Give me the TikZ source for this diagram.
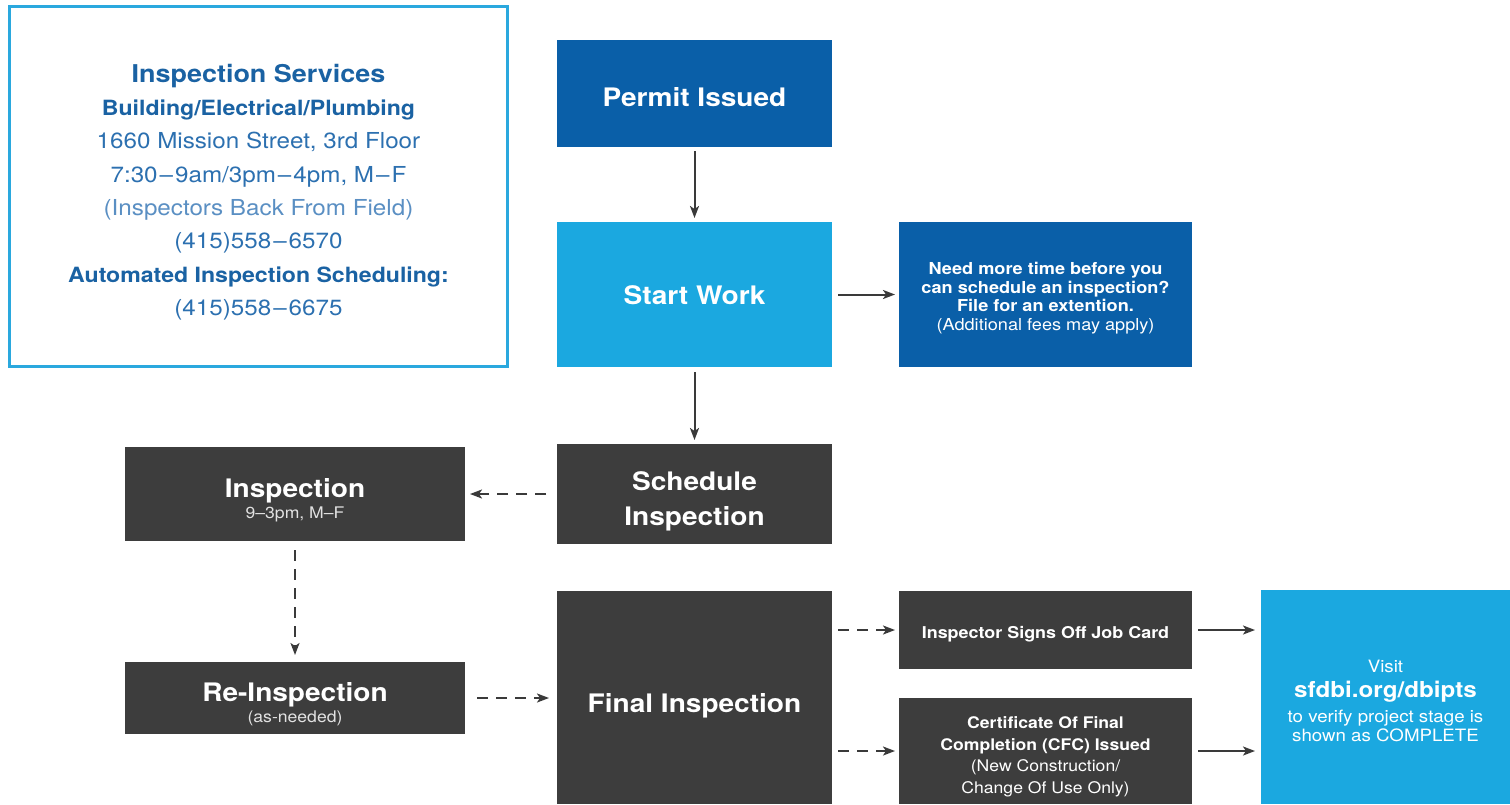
\documentclass[tikz,border=0pt]{standalone}
\usepackage{fontspec}
\setmainfont[FakeStretch=1.1]{TeX Gyre Heros}
\usetikzlibrary{arrows.meta}
\definecolor{dblue}{HTML}{0A5FA8}
\definecolor{lblue}{HTML}{1BA8E0}
\definecolor{dgrey}{HTML}{3D3D3D}
\definecolor{infoborder}{HTML}{2AA8DE}
\definecolor{infobold}{HTML}{1A62A3}
\definecolor{inforeg}{HTML}{2C70B0}
\definecolor{infolight}{HTML}{5A8FC3}
\definecolor{arrowc}{HTML}{3A3A3A}
\definecolor{subgrey}{HTML}{E2E2E2}
\newcommand\mytitlef{\fontsize{25.5}{35}\selectfont\bfseries}
\newcommand\dsh{\kern2pt–\kern2pt}
\begin{document}
\begin{tikzpicture}[x=1pt,y=-1pt,
  box/.style={rectangle, inner sep=0pt, outer sep=0pt, anchor=north west},
  txt/.style={inner sep=0pt, outer sep=0pt, align=center, text=white},
  titletxt/.style={txt, font=\mytitlef},
  conn/.style={draw=arrowc, line width=2pt, -{Stealth[length=12pt,width=9pt,inset=3pt]}},
  dconn/.style={conn, dash pattern=on 11pt off 8pt}]
\useasboundingbox (0,0) rectangle (1510,804);
\fill[white] (0,0) rectangle (1510,804);

% ---------- boxes ----------
\node[box, draw=infoborder, line width=3pt, minimum width=498pt, minimum height=360pt] (info) at (9.5,6.5) {};
\node[box, fill=dblue, minimum width=275pt, minimum height=107pt] (permit) at (557,40) {};
\node[box, fill=lblue, minimum width=275pt, minimum height=145pt] (start) at (557,222) {};
\node[box, fill=dblue, minimum width=293pt, minimum height=145pt] (ext) at (899,222) {};
\node[box, fill=dgrey, minimum width=275pt, minimum height=100pt] (sched) at (557,444) {};
\node[box, fill=dgrey, minimum width=340pt, minimum height=94pt] (insp) at (125,447) {};
\node[box, fill=dgrey, minimum width=340pt, minimum height=72pt] (reinsp) at (125,662) {};
\node[box, fill=dgrey, minimum width=275pt, minimum height=213pt] (final) at (557,591) {};
\node[box, fill=dgrey, minimum width=293pt, minimum height=78pt] (signs) at (899,591) {};
\node[box, fill=dgrey, minimum width=293pt, minimum height=106pt] (cfc) at (899,698) {};
\node[box, fill=lblue, minimum width=249pt, minimum height=214pt] (visit) at (1261,590) {};

% ---------- texts ----------
\node[txt, text=inforeg, font=\fontsize{22}{33.3}\selectfont] (info-t) at ([yshift=-5.5pt]info.center)
 {{\bfseries\color{infobold}\fontsize{24.5}{33.3}\selectfont Inspection Services}\\
  {\bfseries\color{infobold}\fontsize{21}{33.3}\selectfont Building/Electrical/Plumbing}\\
  1660 Mission Street, 3rd Floor\\
  7:30\dsh 9am/3pm\dsh 4pm, M\dsh F\\
  {\color{infolight}(Inspectors Back From Field)}\\
  (415)558\dsh 6570\\
  {\bfseries\color{infobold}\fontsize{21}{33.3}\selectfont Automated Inspection Scheduling:}\\
  (415)558\dsh 6675};

\node[titletxt] (permit-t) at ([yshift=-4pt]permit.center) {Permit Issued};
\node[titletxt] (start-t) at ([yshift=-1pt]start.center) {Start Work};
\node[txt, font=\fontsize{16.5}{18.7}\selectfont] (ext-t) at ([yshift=-3.5pt]ext.center)
 {\textbf{Need more time before you}\\
  \textbf{can schedule an inspection?}\\
  \textbf{File for an extention.}\\
  (Additional fees may apply)};
\node[titletxt] (sched-t) at ([yshift=-7pt]sched.center) {Schedule\\Inspection};
\node[txt, font=\fontsize{16}{21}\selectfont] (insp-t) at ([yshift=-6.5pt]insp.center)
 {{\mytitlef Inspection}\\{\color{subgrey}9–3pm, M–F}};
\node[txt, font=\fontsize{16}{21}\selectfont] (reinsp-t) at ([yshift=-6.5pt]reinsp.center)
 {{\mytitlef Re-Inspection}\\{\color{subgrey}(as-needed)}};
\node[titletxt] (final-t) at ([yshift=-8pt]final.center) {Final Inspection};
\node[txt, font=\fontsize{16.3}{20}\selectfont\bfseries] (signs-t) at ([yshift=-4pt]signs.center) {Inspector Signs Off Job Card};
\node[txt, font=\fontsize{16}{21.5}\selectfont] (cfc-t) at ([yshift=-6pt]cfc.center)
 {\textbf{Certificate Of Final}\\
  \textbf{Completion (CFC) Issued}\\
  (New Construction/\\
  Change Of Use Only)};
\node[txt, font=\fontsize{17}{19}\selectfont] (visit-t) at ([yshift=-4pt]visit.center)
 {Visit\\[6pt]
  {\bfseries\fontsize{22}{26}\selectfont sfdbi.org/dbipts}\\[6pt]
  to verify project stage is\\
  shown as COMPLETE};

% ---------- connectors ----------
\draw[conn, shorten <=4pt, shorten >=4pt] (permit) -- (start);
\draw[conn, shorten <=6pt, shorten >=4pt] (start) -- (ext);
\draw[conn, shorten <=5pt, shorten >=4pt] (start) -- (sched);
\draw[dconn, shorten <=11pt, shorten >=5pt] (sched) -- (insp);
\draw[dconn, shorten <=9pt, shorten >=7pt] (insp) -- (reinsp);
\draw[dconn, shorten <=12pt, shorten >=8pt] (reinsp.east) -- (final.west |- reinsp.east);
\draw[dconn, shorten <=6pt, shorten >=4pt] (final.east |- signs.west) -- (signs.west);
\draw[dconn, shorten <=6pt, shorten >=4pt] (final.east |- cfc.west) -- (cfc.west);
\draw[conn, shorten <=6pt, shorten >=6pt] (signs.east) -- (visit.west |- signs.east);
\draw[conn, shorten <=6pt, shorten >=6pt] (cfc.east) -- (visit.west |- cfc.east);
\end{tikzpicture}
\end{document}
